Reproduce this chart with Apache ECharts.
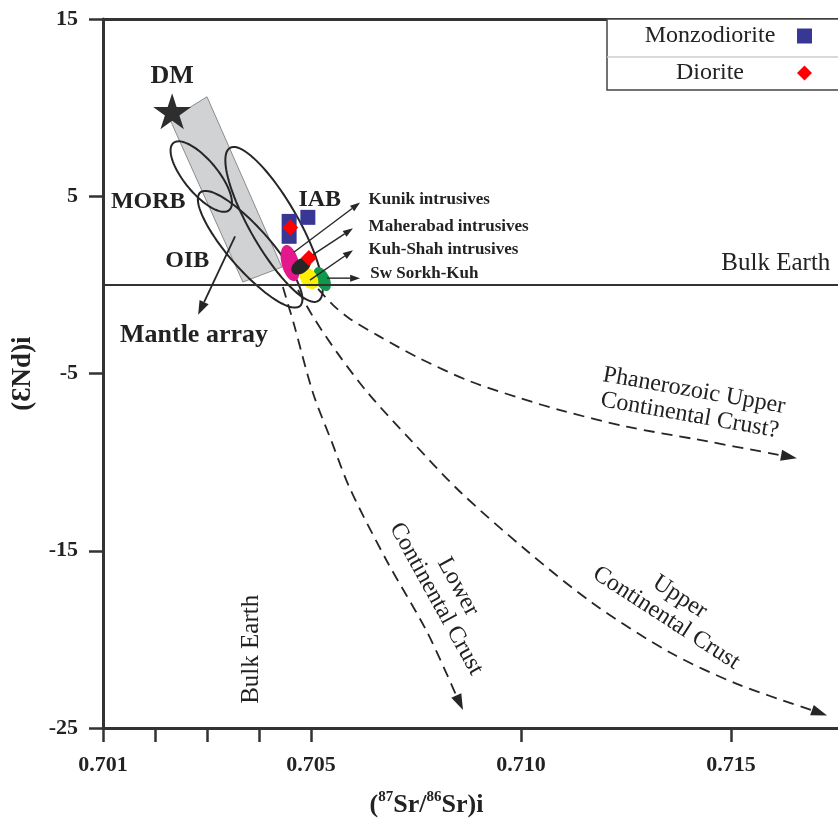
<!DOCTYPE html>
<html>
<head>
<meta charset="utf-8">
<script src="https://cdn.jsdelivr.net/npm/echarts@6/dist/echarts.min.js"></script>
<style>
  html, body { margin: 0; padding: 0; background: #ffffff; }
  #chart { width: 838px; height: 825px; }
</style>
</head>
<body>
<div id="chart"></div>
<script>
// ---------- axis ticks ----------
const srTicks = [0.701, 0.702, 0.703, 0.704, 0.705, 0.710, 0.715];
const srTickLabels = [0.701, 0.705, 0.710, 0.715];
const ndTicks = [-25, -15, -5, 5, 15];

// ---------- samples: [(87Sr/86Sr)i, εNd(i)] ----------
const monzodiorite = [[0.70458, 3.58], [0.70494, 3.81], [0.70458, 2.74]];
const diorite = [[0.70460, 3.24], [0.70496, 1.51]];

// ---------- reference reservoirs ----------
const depletedMantle = [[0.70233, 9.8]];
const bulkEarthSr = 0.7044;
const bulkEarthNd = 0;

// mantle array band (four corners)
const mantleArray = [[0.70229, 9.32], [0.70300, 10.61], [0.70444, 1.00], [0.70369, 0.16]];

// elliptical fields: centre, end of long axis, end of short axis
const morbField = [[0.70289, 6.11], [0.70342, 4.20], [0.70315, 6.67]];
const oibField = [[0.70383, 2.01], [0.70479, -1.19], [0.70413, 2.79]];
const iabField = [[0.70429, 3.41], [0.70517, -0.91], [0.70469, 4.08]];

const kunikField = [[0.70460, 1.23], [0.70469, 0.22], [0.70476, 1.35]];
const maherabadField = [[0.70481, 1.06], [0.70498, 1.42], [0.70489, 0.74]];
const kuhShahField = [[0.70496, 0.38], [0.70511, -0.18], [0.70511, 0.63]];
const sorkhKuhField = [[0.70527, 0.33], [0.70541, -0.32], [0.70542, 0.51]];

// crustal contamination trends
const lowerCrustTrend = [[0.70446, -0.12], [0.70467, -2.20], [0.70505, -6.11], [0.70550, -8.89],
  [0.70593, -11.5], [0.70681, -15.59], [0.70776, -19.56], [0.70862, -23.99]];
const upperCrustTrend = [[0.70475, -0.29], [0.70505, -1.80], [0.70564, -3.88], [0.70636, -6.11],
  [0.70736, -8.72], [0.70855, -11.67], [0.71014, -15.0], [0.71171, -17.96], [0.71355, -20.74],
  [0.71514, -22.51], [0.71729, -24.29]];
const phanerozoicTrend = [[0.70517, -0.23], [0.70552, -1.13], [0.70593, -1.92], [0.70664, -2.92],
  [0.70760, -4.16], [0.70879, -5.44], [0.70998, -6.39], [0.71100, -7.11], [0.71252, -8.0],
  [0.71419, -8.72], [0.71657, -9.78]];

// pointers from labels to fields
const mantleArrayPointer = [[0.70354, 2.74], [0.70283, -1.69]];
const kunikPointer = [[0.70467, 1.84], [0.70617, 4.65]];
const maherabadPointer = [[0.70485, 1.34], [0.70600, 3.19]];
const kuhShahPointer = [[0.70498, 0.27], [0.70600, 1.95]];
const sorkhKuhPointer = [[0.70538, 0.38], [0.70617, 0.38]];

// annotation anchors: [text, Sr, Nd]
const fieldNames = [['MORB', 0.70187, 4.70], ['OIB', 0.70262, 1.34], ['IAB', 0.70521, 4.81]];
const mantleArrayName = [['Mantle array', 0.70275, -2.87]];
const intrusionNames = [['Kunik intrusives', 0.70636, 4.81], ['Maherabad intrusives', 0.70636, 3.30],
  ['Kuh-Shah intrusives', 0.70636, 2.01], ['Sw Sorkh-Kuh', 0.70640, 0.61]];
const trendNames = [['Phanerozoic Upper\nContinental Crust?', 0.71407, -6.67],
  ['Lower\nContinental Crust', 0.70824, -17.37], ['Upper\nContinental Crust', 0.71362, -18.2]];
const bulkEarthNames = [['Bulk Earth', 0.71738, 1.23], ['Bulk Earth', 0.70385, -20.56]];

// ---------- styling ----------
const SERIF = '"Liberation Serif", "Times New Roman", "DejaVu Serif", serif';
const INK = '#222222';
const AXIS = '#333333';
const trendAngles = [-10, -61, -33];
const STAR = 'path://M50,0 L61.2,34.5 L97.6,34.5 L68.2,55.9 L79.4,90.5 L50,69.1 L20.6,90.5 L31.8,55.9 L2.4,34.5 L38.8,34.5 Z';

// The 0.701–0.705 stretch of the Sr axis is drawn wider than the rest.
const SR_BREAK = 0.705;
const LOW_STRETCH = 52 / 42;
const srToAxis = v => (v >= SR_BREAK ? v : SR_BREAK - (SR_BREAK - v) * LOW_STRETCH);
const axisToSr = u => (u >= SR_BREAK ? u : SR_BREAK - (SR_BREAK - u) / LOW_STRETCH);
const toAxis = p => [srToAxis(p[0]), p[1]];
const X_MIN = srToAxis(0.701);
const X_MAX = 0.71755;

// ---------- helpers ----------
function ellipseOutline(api, f) {
  const c = api.coord(toAxis(f[0]));
  const a = api.coord(toAxis(f[1]));
  const b = api.coord(toAxis(f[2]));
  const ax = a[0] - c[0], ay = a[1] - c[1], bx = b[0] - c[0], by = b[1] - c[1];
  const pts = [];
  const n = 90;
  for (let i = 0; i < n; i++) {
    const t = (i / n) * Math.PI * 2;
    pts.push([c[0] + ax * Math.cos(t) + bx * Math.sin(t), c[1] + ay * Math.cos(t) + by * Math.sin(t)]);
  }
  return pts;
}

function fieldSeries(fields, styles, z) {
  return {
    type: 'custom', coordinateSystem: 'cartesian2d', silent: true, z: z,
    data: fields.map(f => toAxis(f[0])),
    renderItem: (params, api) => ({
      type: 'polygon',
      shape: { points: ellipseOutline(api, fields[params.dataIndex]) },
      style: Object.assign({}, styles[params.dataIndex])
    })
  };
}

function arrowSeries(paths, opt, z) {
  return {
    type: 'custom', coordinateSystem: 'cartesian2d', silent: true, z: z,
    data: paths.map(p => toAxis(p[0])),
    renderItem: (params, api) => {
      const pts = paths[params.dataIndex].map(p => api.coord(toAxis(p)));
      const tip = pts[pts.length - 1];
      const prev = pts[pts.length - 2];
      let dx = tip[0] - prev[0], dy = tip[1] - prev[1];
      const len = Math.hypot(dx, dy) || 1;
      dx /= len; dy /= len;
      const base = [tip[0] - dx * opt.headLength, tip[1] - dy * opt.headLength];
      const hw = opt.headWidth / 2;
      const head = [tip, [base[0] - dy * hw, base[1] + dx * hw], [base[0] + dy * hw, base[1] - dx * hw]];
      const shaft = pts.slice(0, -1).concat([base]);
      return {
        type: 'group',
        children: [
          {
            type: 'polyline',
            shape: { points: shaft, smooth: opt.smooth || 0 },
            style: { stroke: opt.color, lineWidth: opt.width, lineDash: opt.dash || null, fill: 'none' }
          },
          { type: 'polygon', shape: { points: head }, style: { fill: opt.color, stroke: null } }
        ]
      };
    }
  };
}

function textItems(list, label) {
  return list.map((row, i) => ({
    value: toAxis([row[1], row[2]]),
    label: Object.assign({ formatter: row[0] }, typeof label === 'function' ? label(i) : label)
  }));
}

const boldLabel = (size) => ({
  show: true, position: 'inside', fontFamily: SERIF, fontWeight: 'bold', fontSize: size, color: INK
});

const textData = []
  .concat(textItems(fieldNames, boldLabel(24)))
  .concat(textItems(mantleArrayName, boldLabel(26)))
  .concat(textItems(intrusionNames, {
    show: true, position: 'right', distance: 0, fontFamily: SERIF, fontWeight: 'bold', fontSize: 17, color: INK
  }))
  .concat(textItems(trendNames, i => ({
    show: true, position: 'inside', rotate: trendAngles[i], fontFamily: SERIF, fontSize: 24,
    lineHeight: 25, color: INK, align: 'center'
  })))
  .concat(textItems(bulkEarthNames, i => (i === 0
    ? { show: true, position: 'left', distance: 0, fontFamily: SERIF, fontSize: 25, color: INK }
    : { show: true, position: 'inside', rotate: 90, fontFamily: SERIF, fontSize: 25, color: INK })));

const option = {
  backgroundColor: '#ffffff',
  animation: false,
  grid: { left: 103, right: 0, top: 19, bottom: 93 },
  legend: {
    orient: 'vertical', left: 607, top: 19, align: 'right',
    padding: [5, 30, 5, 21], itemGap: 13, itemWidth: 15, itemHeight: 15,
    borderColor: '#444444', borderWidth: 1.5, backgroundColor: '#ffffff',
    selectedMode: false,
    formatter: name => '{t|' + name + '}',
    textStyle: { rich: { t: { width: 164, align: 'center', fontFamily: SERIF, fontSize: 24, color: INK, lineHeight: 26 } } },
    data: [{ name: 'Monzodiorite', icon: 'rect' }, { name: 'Diorite', icon: 'diamond' }]
  },
  graphic: [{
    type: 'line', z: 20, silent: true,
    shape: { x1: 607, y1: 57, x2: 838, y2: 57 },
    style: { stroke: '#cdcdcd', lineWidth: 1.5 }
  }],
  xAxis: [{
    type: 'value', min: X_MIN, max: X_MAX, position: 'bottom',
    axisLine: { show: true, onZero: false, lineStyle: { color: AXIS, width: 3 } },
    axisTick: { show: true, length: 14, customValues: srTicks.map(srToAxis), lineStyle: { color: AXIS, width: 2.5 } },
    axisLabel: {
      show: true, margin: 26, customValues: srTickLabels.map(srToAxis),
      formatter: v => axisToSr(v).toFixed(3),
      fontFamily: SERIF, fontWeight: 'bold', fontSize: 22, color: INK
    },
    splitLine: { show: false },
    name: '({s|87}Sr/{s|86}Sr)i', nameLocation: 'middle', nameGap: 62,
    nameTextStyle: {
      fontFamily: SERIF, fontWeight: 'bold', fontSize: 26, color: INK, lineHeight: 30,
      padding: [0, 88, 0, 0],
      rich: { s: { fontFamily: SERIF, fontWeight: 'bold', fontSize: 15, lineHeight: 16, verticalAlign: 'top', color: INK } }
    }
  }, {
    type: 'value', min: X_MIN, max: X_MAX, position: 'top',
    axisLine: { show: true, onZero: false, lineStyle: { color: AXIS, width: 3 } },
    axisTick: { show: false }, axisLabel: { show: false }, splitLine: { show: false }
  }],
  yAxis: [{
    type: 'value', min: -25, max: 15,
    axisLine: { show: true, onZero: false, lineStyle: { color: AXIS, width: 3 } },
    axisTick: { show: true, length: 14, customValues: ndTicks, lineStyle: { color: AXIS, width: 2.5 } },
    axisLabel: { show: true, margin: 25, customValues: ndTicks, fontFamily: SERIF, fontWeight: 'bold', fontSize: 22, color: INK },
    splitLine: { show: false },
    name: '(\u0190Nd)i', nameLocation: 'middle', nameRotate: 90, nameGap: 66,
    nameTextStyle: { fontFamily: SERIF, fontWeight: 'bold', fontSize: 27, color: INK }
  }],
  series: [
    // mantle array band
    {
      type: 'custom', coordinateSystem: 'cartesian2d', silent: true, z: 1,
      data: [toAxis(mantleArray[0])],
      renderItem: (params, api) => ({
        type: 'polygon',
        shape: { points: mantleArray.map(p => api.coord(toAxis(p))) },
        style: { fill: '#d1d2d4', stroke: '#8c8c8c', lineWidth: 1 }
      })
    },
    // Bulk Earth reference lines
    {
      type: 'line', name: 'Bulk Earth', data: [], z: 2, silent: true,
      markLine: {
        silent: true, symbol: ['none', 'none'], label: { show: false }, animation: false,
        lineStyle: { color: AXIS, width: 2, type: 'solid', opacity: 1 },
        data: [{ xAxis: srToAxis(bulkEarthSr) }, { yAxis: bulkEarthNd }]
      }
    },
    // MORB, OIB and IAB fields
    fieldSeries([morbField, oibField, iabField],
      [0, 1, 2].map(() => ({ fill: 'none', stroke: '#262626', lineWidth: 2 })), 3),
    // contamination trends
    arrowSeries([lowerCrustTrend, upperCrustTrend, phanerozoicTrend],
      { color: '#262626', width: 1.8, dash: [11, 7], smooth: 0.3, headLength: 16, headWidth: 11 }, 3),
    // intrusion fields
    fieldSeries([kunikField, sorkhKuhField, kuhShahField, maherabadField],
      [{ fill: '#e4178c' }, { fill: '#10994c' }, { fill: '#fff000' }, { fill: '#262626' }], 4),
    // pointers
    arrowSeries([mantleArrayPointer], { color: '#262626', width: 1.8, headLength: 14, headWidth: 10 }, 5),
    arrowSeries([kunikPointer, maherabadPointer, kuhShahPointer, sorkhKuhPointer],
      { color: '#262626', width: 1.4, headLength: 10, headWidth: 7 }, 5),
    // text annotations
    {
      type: 'scatter', silent: true, z: 6, symbol: 'circle', symbolSize: 1,
      itemStyle: { color: 'rgba(0,0,0,0)', opacity: 1 },
      data: textData
    },
    // depleted mantle
    {
      type: 'scatter', name: 'DM', silent: true, z: 7,
      data: depletedMantle.map(toAxis), symbol: STAR, symbolSize: [38, 36],
      itemStyle: { color: '#2e2e2e', opacity: 1 },
      label: { show: true, position: 'top', distance: 4, formatter: 'DM', fontFamily: SERIF, fontWeight: 'bold', fontSize: 26, color: INK }
    },
    {
      type: 'scatter', name: 'Monzodiorite', z: 7, silent: true,
      data: monzodiorite.map(toAxis), symbol: 'rect', symbolSize: 15,
      itemStyle: { color: '#383894', opacity: 1 }
    },
    {
      type: 'scatter', name: 'Diorite', z: 8, silent: true,
      data: diorite.map(toAxis), symbol: 'diamond', symbolSize: 16,
      itemStyle: { color: '#ff0000', opacity: 1 }
    }
  ]
};

const chart = echarts.init(document.getElementById('chart'), null, { renderer: 'canvas' });
chart.setOption(option);
</script>
</body>
</html>
